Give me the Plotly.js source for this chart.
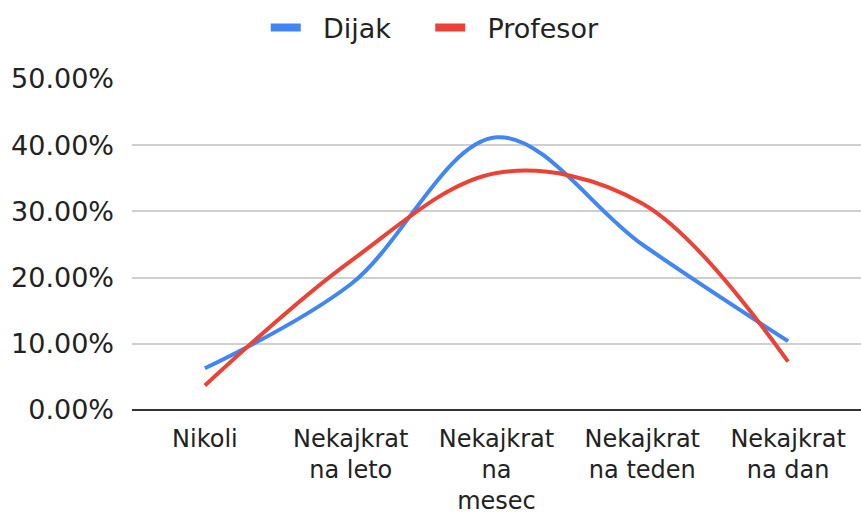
<!DOCTYPE html>
<html><head><meta charset="utf-8">
<script src="https://cdn.plot.ly/plotly-3.0.1.min.js"></script>
<style>html,body{margin:0;padding:0;background:#fff}</style>
</head><body><div id="chart" style="width:861px;height:514px"></div>
<script>
const categories = ["Nikoli", "Nekajkrat<br>na leto", "Nekajkrat<br>na<br>mesec", "Nekajkrat<br>na teden", "Nekajkrat<br>na dan"];
const dijak = [0.063, 0.19, 0.412, 0.25, 0.104];
const profesor = [0.037, 0.225, 0.358, 0.312, 0.073];
const yTicks = [0, 0.1, 0.2, 0.3, 0.4, 0.5];
const seriesNames = ["Dijak", "Profesor"];
const colors = ["#4285F4", "#EA4335"];

const sp = "\u00a0";
const traces = [
  {x: categories, y: dijak, name: seriesNames[0], type: "scatter", mode: "lines", showlegend: false,
   line: {color: colors[0], width: 4, shape: "spline", smoothing: 1}},
  {x: categories, y: profesor, name: seriesNames[1], type: "scatter", mode: "lines", showlegend: false,
   line: {color: colors[1], width: 4, shape: "spline", smoothing: 1}},
  // legend-only entries with thicker swatches
  {x: [null], y: [null], name: sp + sp + seriesNames[0] + sp + sp + sp + sp, type: "scatter", mode: "lines",
   line: {color: colors[0], width: 8}},
  {x: [null], y: [null], name: sp + sp + seriesNames[1], type: "scatter", mode: "lines",
   line: {color: colors[1], width: 8}}
];
const layout = {
  width: 861, height: 514,
  margin: {l: 132, r: 0, t: 79, b: 104},
  paper_bgcolor: "#fff", plot_bgcolor: "#fff",
  font: {family: "DejaVu Sans, sans-serif", size: 24, color: "#222"},
  showlegend: true,
  legend: {orientation: "h", x: 0.416, xanchor: "center", y: 0.9455, yanchor: "middle",
           yref: "container", font: {size: 27, color: "#222"}, itemwidth: 30,
           traceorder: "normal"},
  xaxis: {type: "category", range: [-0.5, 4.5], showgrid: false, zeroline: false, ticks: "",
          showline: false, tickfont: {size: 24, color: "#222"}, automargin: false,
          ticklabelstandoff: 12},
  yaxis: {range: [0, 0.5], tickvals: yTicks, tickformat: ".2%", showgrid: true,
          gridcolor: "#cfcfcf", gridwidth: 2, zeroline: true, zerolinecolor: "#333",
          zerolinewidth: 2, ticks: "", tickfont: {size: 27, color: "#222"}, automargin: false,
          ticklabelstandoff: 17}
};
Plotly.newPlot("chart", traces, layout, {displayModeBar: false, staticPlot: true});
</script></body></html>
